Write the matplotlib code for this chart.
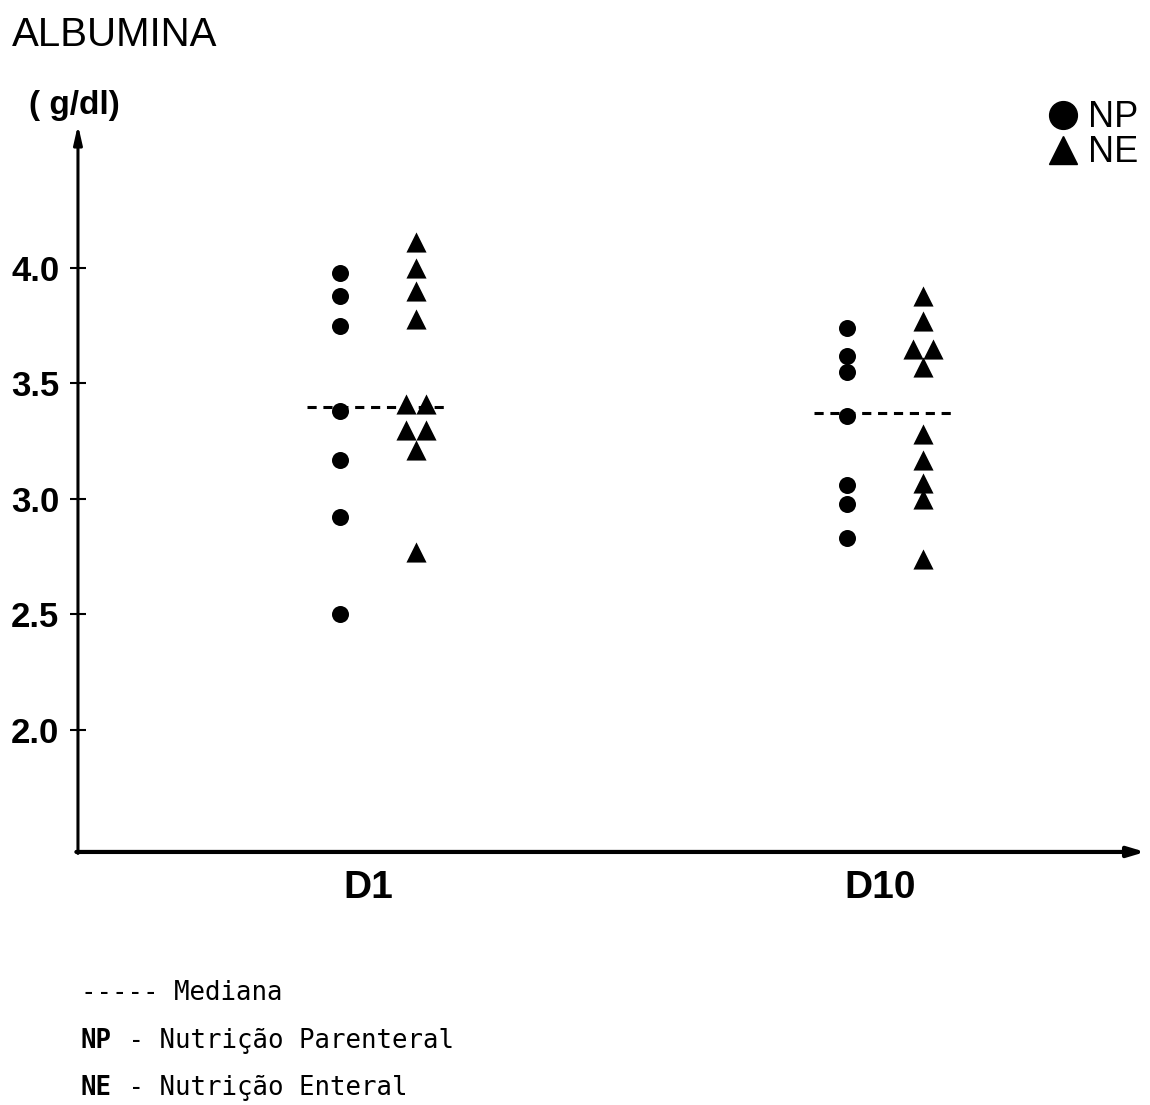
import matplotlib
matplotlib.use("Agg")
import matplotlib.pyplot as plt
from matplotlib.lines import Line2D
import numpy as np

# Albumina sérica (g/dl) por grupo e dia
dias = ["D1", "D10"]
np_d1 = [3.98, 3.88, 3.75, 3.38, 3.17, 2.92, 2.50]
ne_d1 = [4.11, 4.00, 3.90, 3.78, 3.41, 3.41, 3.30, 3.30, 3.21, 2.77]
np_d10 = [3.74, 3.62, 3.55, 3.36, 3.06, 2.98, 2.83]
ne_d10 = [3.88, 3.77, 3.65, 3.65, 3.57, 3.28, 3.17, 3.07, 3.00, 2.74]
medianas = [3.40, 3.37]
yticks = [2.0, 2.5, 3.0, 3.5, 4.0]

font_sans = ["Liberation Sans", "DejaVu Sans"]
font_mono = ["DejaVu Sans Mono"]


def x_pos(base, vals, dx=0.02):
    # valores repetidos ficam lado a lado
    xs = []
    for i, v in enumerate(vals):
        n = vals.count(v)
        if n > 1:
            k = [j for j, w in enumerate(vals) if w == v].index(i)
            xs.append(base + (k - (n - 1) / 2) * 2 * dx)
        else:
            xs.append(base)
    return xs


fig = plt.figure(figsize=(11.5, 11.05), dpi=100)
ax = fig.add_axes([0.0678, 0.229, 0.928, 0.658])
ax.set_xlim(0.408, 2.513)
ax.set_ylim(1.472, 4.619)

off = 0.075
grupos = [(np_d1, ne_d1), (np_d10, ne_d10)]
for i, (g_np, g_ne) in enumerate(grupos):
    c = i + 1
    ax.scatter(x_pos(c - off, g_np), g_np, s=150, marker="o", color="black",
               linewidths=0, zorder=3, clip_on=False)
    ax.scatter(x_pos(c + off, g_ne), g_ne, s=210, marker="^", color="black",
               linewidths=0, zorder=3, clip_on=False)
    ax.plot([c - 0.14, c + 0.135], [medianas[i], medianas[i]], color="black",
            lw=2.2, linestyle=(0, (3, 2.2)), zorder=2)

# eixos com setas
for s in ["top", "right", "left", "bottom"]:
    ax.spines[s].set_visible(False)
ax.annotate("", xy=(0, 1.0), xytext=(0, -0.002), xycoords="axes fraction",
            arrowprops=dict(arrowstyle="-|>,head_length=1.1,head_width=0.25",
                            lw=2.2, color="black", shrinkA=0, shrinkB=0))
ax.annotate("", xy=(1.0, 0), xytext=(-0.0015, 0), xycoords="axes fraction",
            arrowprops=dict(arrowstyle="-|>,head_length=1.0,head_width=0.3",
                            lw=3, color="black", shrinkA=0, shrinkB=0))

ax.set_yticks(yticks)
ax.set_yticklabels([f"{v:.1f}" for v in yticks], family=font_sans,
                   fontweight="bold", fontsize=25)
ax.tick_params(axis="y", direction="inout", length=11, width=1.5, pad=8)
ax.set_xticks([0.98, 1.99])
ax.set_xticklabels(dias, family=font_sans, fontweight="bold", fontsize=28)
ax.tick_params(axis="x", length=0, pad=13)

fig.text(0.010, 0.958, "ALBUMINA", family=font_sans, fontsize=29, va="baseline")
fig.text(0.025, 0.897, "( g/dl)", family=font_sans, fontsize=24,
         fontweight="bold", va="baseline")

handles = [Line2D([], [], marker="o", color="black", ls="", markersize=20),
           Line2D([], [], marker="^", color="black", ls="", markersize=20)]
fig.legend(handles, ["NP", "NE"], loc="upper right",
           bbox_to_anchor=(1.012, 0.932), frameon=False,
           prop={"family": font_sans, "size": 26},
           handlelength=0.8, handletextpad=0.3, labelspacing=0.0, borderpad=0.2)

# notas de rodapé
fs = 18.5
linhas = [(0.095, None, "----- Mediana"),
          (0.052, "NP", " - Nutrição Parenteral"),
          (0.009, "NE", " - Nutrição Enteral")]
for y, sigla, texto in linhas:
    if sigla is None:
        fig.text(0.070, y, texto, family=font_mono, fontsize=fs, va="baseline")
        continue
    fig.text(0.070, y, sigla, family=font_mono, fontsize=fs, fontweight="bold",
             va="baseline")
    ax.annotate(texto, xy=(0.070, y), xycoords="figure fraction",
                xytext=(len(sigla) * 0.602 * fs + 1, 0), textcoords="offset points",
                family=font_mono, fontsize=fs, va="baseline")

fig.savefig("out.png", dpi=100)
